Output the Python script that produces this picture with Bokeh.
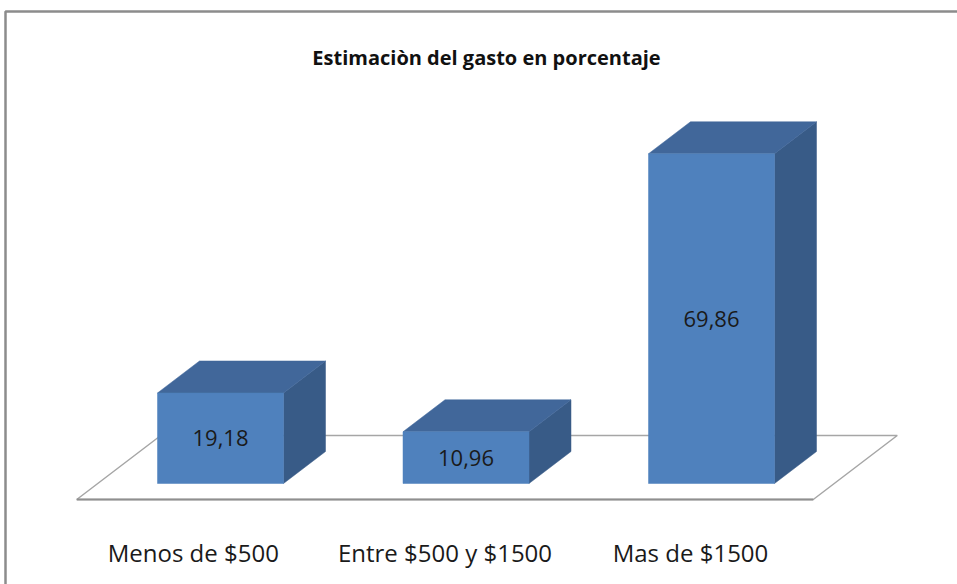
import numpy as np
from bokeh.plotting import figure
from bokeh.models import Range1d, ColumnDataSource, Label
from bokeh.core.properties import value
from bokeh.embed import file_html
from bokeh.resources import INLINE

# ---- data ----
categories = ["Menos de   $500", "Entre $500 y $1500", "Mas de $1500"]
values = [19.18, 10.96, 69.86]
value_labels = ["19,18", "10,96", "69,86"]
title_text = "Estimaciòn del gasto en porcentaje"

# ---- layout constants (pixels) ----
W, H = 957, 584
PX_X = 245.5      # px per category step
PX_Y = 4.72       # px per percentage unit
X0 = 220          # canvas px of first category centre
Y0 = 483          # canvas px of bar baseline

x_start = -X0 / PX_X
x_end = (W - X0) / PX_X
y_end = Y0 / PX_Y
y_start = -(H - Y0) / PX_Y

p = figure(width=W, height=H, x_range=Range1d(x_start, x_end),
           y_range=Range1d(y_start, y_end), output_backend="svg",
           toolbar_location=None, min_border=0,
           x_axis_type=None, y_axis_type=None)
p.grid.visible = False
p.outline_line_color = None
p.background_fill_color = "white"
p.border_fill_color = "white"

xs = np.arange(len(categories), dtype=float)
vals = np.array(values)
hw = (126 / PX_X) / 2
dx = 42 / PX_X
dy = 32 / PX_Y

# frame (top and left border of the chart area)
p.line([x_start + 5 / PX_X, x_start + 5 / PX_X, x_end],
       [y_start, y_end - 11 / PX_Y, y_end - 11 / PX_Y],
       line_color="#8c8c8c", line_width=2.5)

# floor
n = len(categories)
fx = [-0.5 - 0.5 * dx, n - 0.5 - 0.5 * dx, n - 0.5 + 1.5 * dx, -0.5 + 1.5 * dx]
fy = [-0.5 * dy, -0.5 * dy, 1.5 * dy, 1.5 * dy]
p.patch(fx, fy, fill_color="white", line_color="#a6a6a6", line_width=1.5)
p.line(fx[:2], fy[:2], line_color="#8f8f8f", line_width=2.2)

FRONT = "#4f81bd"
TOP = "#41679a"
SIDE = "#385b87"

# side faces
side_xs = [[x + hw, x + hw + dx, x + hw + dx, x + hw] for x in xs]
side_ys = [[0, dy, v + dy, v] for v in vals]
p.patches(side_xs, side_ys, fill_color=SIDE, line_color=SIDE, line_width=0.5)
# top faces
top_xs = [[x - hw, x + hw, x + hw + dx, x - hw + dx] for x in xs]
top_ys = [[v, v, v + dy, v + dy] for v in vals]
p.patches(top_xs, top_ys, fill_color=TOP, line_color=TOP, line_width=0.5)
# front faces
src = ColumnDataSource(dict(x=xs, top=vals, mid=vals / 2, lab=value_labels,
                            cat=categories, cy=np.full(n, -69 / PX_Y)))
p.vbar(x="x", top="top", bottom=0, width=2 * hw, source=src,
       fill_color=FRONT, line_color=FRONT, line_width=0.5)

# value labels
p.text(x="x", y="mid", text="lab", source=src, text_align="center",
       text_baseline="middle", text_font=value("Open Sans"),
       text_font_size="22px", text_color="#1a1a1a")

# category labels
p.text(x="x", y="cy", text="cat", source=src, text_align="center",
       text_baseline="alphabetic", x_offset=-21, text_font=value("Open Sans"),
       text_font_size="24px", text_color="#1a1a1a")

# title
p.add_layout(Label(x=486, y=H - 57, x_units="screen", y_units="screen",
                   text=title_text, text_align="center",
                   text_baseline="alphabetic",
                   text_font="Open Sans", text_font_size="20px",
                   text_font_style="bold", text_color="#111111"))

open("out.html", "w").write(file_html(p, INLINE))
